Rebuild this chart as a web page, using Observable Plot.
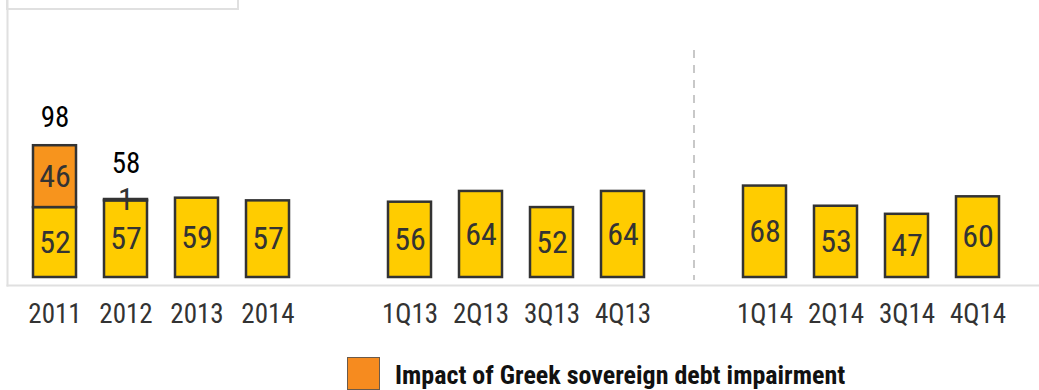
<!DOCTYPE html>
<html>
<head>
<meta charset="utf-8">
<script src="https://cdn.jsdelivr.net/npm/d3@7"></script>
<script src="https://cdn.jsdelivr.net/npm/@observablehq/plot@0.6"></script>
<style>
  html, body { margin: 0; padding: 0; background: #fff; }
  #wrap { position: relative; width: 1039px; height: 390px; overflow: hidden;
          font-family: "Liberation Sans Narrow", "Roboto Condensed", "Liberation Sans", sans-serif; }
  #topbox { position: absolute; left: 6px; top: -2px; width: 229px; height: 10px;
            border: 2px solid #e0e0e0; border-top: none; }
  #legend { display: flex; align-items: flex-start; margin-left: 347px; margin-top: 22px; }
  #legend .sw { width: 33px; height: 33px; flex: none; background: #F68B1F; border: 1px solid #6b5a4a; box-sizing: border-box; }
  #legend .lab { margin-left: 15px; font-size: 26px; font-weight: bold; color: #111; line-height: 1; padding-top: 5px; white-space: nowrap; }
</style>
</head>
<body>
<div id="wrap">
  <div id="chart"></div>
  <div id="topbox"></div>
  <div id="legend"><div class="sw"></div><div class="lab" id="leglab"></div></div>
</div>
<script>
// ---- data ----
const periods = ["2011","2012","2013","2014","1Q13","2Q13","3Q13","4Q13","1Q14","2Q14","3Q14","4Q14"];
const underlying = [52, 57, 59, 57, 56, 64, 52, 64, 68, 53, 47, 60];
const greekPeriods = ["2011", "2012"];
const greekImpact = [46, 1];
const totalPeriods = ["2011", "2012"];
const totals = [98, 58];
const xDomain = ["2011","2012","2013","2014"," ","1Q13","2Q13","3Q13","4Q13","  ","1Q14","2Q14","3Q14","4Q14"];
const separatorSlot = ["  "];
const legendLabel = "Impact of Greek sovereign debt impairment";

document.getElementById("leglab").textContent = legendLabel;

const rows = [
  ...periods.map((p, i) => ({period: p, series: "Underlying", value: underlying[i]})),
  ...greekPeriods.map((p, i) => ({period: p, series: "Greek", value: greekImpact[i]}))
];
const totalRows = totalPeriods.map((p, i) => ({period: p, total: totals[i]}));

const FONT = '"Liberation Sans Narrow", "Roboto Condensed", "Liberation Sans", sans-serif';
const colors = {Underlying: "#FFCC00", Greek: "#F7941D"};

const chart = Plot.plot({
  width: 1039,
  height: 335,
  marginLeft: 7,
  marginRight: 0,
  marginTop: 0,
  marginBottom: 50,
  style: {fontFamily: FONT, background: "transparent"},
  x: {domain: xDomain, paddingInner: 0.394, paddingOuter: 0.4645, align: 0.394, axis: null},
  y: {domain: [0, 206], insetBottom: 8, axis: null},
  marks: [
    Plot.frame({anchor: "left", stroke: "#e0e0e0", strokeWidth: 2}),
    Plot.frame({anchor: "bottom", stroke: "#e0e0e0", strokeWidth: 2}),
    Plot.ruleX(separatorSlot, {x: d => d, stroke: "#c8c8c8", strokeWidth: 2, strokeDasharray: "8,7", insetTop: 50, insetBottom: 5}),
    Plot.barY(rows, {x: "period", y: "value", fill: d => colors[d.series], stroke: "#333", strokeWidth: 2.5}),
    Plot.text(rows, Plot.stackY({x: "period", y: "value", text: d => String(d.value), fill: "#333", fontSize: 32})),
    Plot.text(totalRows.filter(d => d.period === "2011"), {x: "period", y: "total", text: d => String(d.total), fill: "#000", fontSize: 29, dy: -28}),
    Plot.text(totalRows.filter(d => d.period === "2012"), {x: "period", y: "total", text: d => String(d.total), fill: "#000", fontSize: 29, dy: -36}),
    Plot.axisX({tickSize: 0, tickPadding: 18, fontSize: 27, color: "#333", label: null, tickFormat: d => d.trim() === "" ? "" : d})
  ]
});
document.getElementById("chart").appendChild(chart);
</script>
</body>
</html>
